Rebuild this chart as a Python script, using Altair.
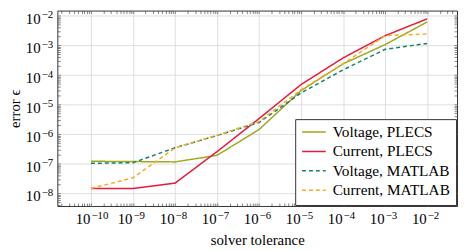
import altair as alt
import pandas as pd

# ---- data ----
tolerance = [1e-10, 1e-9, 1e-8, 1e-7, 1e-6, 1e-5, 1e-4, 1e-3, 1e-2]
voltage_plecs = [1.23e-7, 1.20e-7, 1.17e-7, 1.95e-7, 1.45e-6, 3.0e-5, 2.4e-4, 1.07e-3, 6.2e-3]
current_plecs = [1.48e-8, 1.48e-8, 2.24e-8, 2.6e-7, 3.4e-6, 4.8e-5, 3.8e-4, 2.14e-3, 7.9e-3]
voltage_matlab = [1.05e-7, 1.10e-7, 3.5e-7, 9.1e-7, 2.5e-6, 2.5e-5, 1.5e-4, 7.4e-4, 1.17e-3]
current_matlab = [1.48e-8, 3.4e-8, 3.5e-7, 9.3e-7, 2.7e-6, 3.2e-5, 2.4e-4, 2.14e-3, 2.45e-3]

series_names = ["Voltage, PLECS", "Current, PLECS", "Voltage, MATLAB", "Current, MATLAB"]
series_values = [voltage_plecs, current_plecs, voltage_matlab, current_matlab]
series_colors = ["#a0a81c", "#e8193c", "#16806e", "#f8aa22"]
series_dashes = [[1, 0], [1, 0], [4, 3], [4, 3]]

x_major_exps = list(range(-10, -1))
y_major_exps = list(range(-8, -1))
x_title = "solver tolerance"
y_title = "error ϵ"

x_domain = [10 ** -10.8, 10 ** -1.29]
y_domain = [10 ** -8.42, 10 ** -1.823]


def all_ticks(domain):
    vals = []
    for d in range(-12, 1):
        for m in range(1, 10):
            v = m * 10.0 ** d
            if domain[0] <= v <= domain[1]:
                vals.append(v)
    return vals


rows = []
for name, vals in zip(series_names, series_values):
    for t, v in zip(tolerance, vals):
        rows.append({"tol": t, "err": v, "series": name})
df = pd.DataFrame(rows)

FONT = "Liberation Serif"
BASE_SIZE = 15
EXP_SIZE = 11
major_test = "abs(log(datum.value)/LN10 - round(log(datum.value)/LN10)) < 0.001"
exp_expr = "round(log(datum.value)/LN10)"
base_expr = f"({major_test}) ? '10' : ''"


def exp_label_expr(exps):
    arr = "[" + ",".join("'\u2212" + str(abs(e)) + "'" for e in exps) + "]"
    return f"{arr}[{exp_expr} - ({exps[0]})]"


x_ticks = all_ticks(x_domain)
y_ticks = all_ticks(y_domain)
x_majors = [10.0 ** e for e in x_major_exps]
y_majors = [10.0 ** e for e in y_major_exps]

grid_cond = {"condition": {"test": major_test, "value": "#d6d6d6"}, "value": "transparent"}

x_scale = alt.Scale(type="log", domain=x_domain, nice=False)
y_scale = alt.Scale(type="log", domain=y_domain, nice=False)

tick_common = dict(tickSize=alt.ExprRef("-3"), tickColor="#333", tickWidth=0.6, domain=False)
label_common = dict(labelFont=FONT, labelColor="black", labelOverlap=False,
                    labelFlush=False, labelBaseline="alphabetic")

# mirrored ticks on top and right
mirror = alt.Chart(df).mark_line(opacity=0).encode(
    x=alt.X("tol:Q", scale=x_scale, axis=alt.Axis(
        orient="top", values=x_ticks, labels=False, grid=False, title=None, **tick_common)),
    y=alt.Y("err:Q", scale=y_scale, axis=alt.Axis(
        orient="right", values=y_ticks, labels=False, grid=False, title=None, **tick_common)),
    detail="series:N",
)

lines = alt.Chart(df).mark_line(strokeWidth=1.5).encode(
    x=alt.X("tol:Q", scale=x_scale, axis=alt.Axis(
        orient="bottom", values=x_ticks, labelExpr=base_expr,
        grid=True, gridColor=grid_cond, gridWidth=0.8,
        labelPadding=21, labelFontSize=BASE_SIZE, labelAlign="right", labelOffset=-1,
        title=x_title, titleFont=FONT, titleFontSize=15, titleFontWeight="normal",
        titleColor="black", titleBaseline="alphabetic", titleY=39,
        **label_common, **tick_common)),
    y=alt.Y("err:Q", scale=y_scale, axis=alt.Axis(
        orient="left", values=y_ticks, labelExpr=base_expr,
        grid=True, gridColor=grid_cond, gridWidth=0.8,
        labelPadding=20.5, labelFontSize=BASE_SIZE, labelAlign="right", labelOffset=7.5,
        title=y_title, titleFont=FONT, titleFontSize=15, titleFontWeight="normal",
        titleColor="black", titleAngle=270, titleBaseline="alphabetic",
        titleX=-38, titleY=99,
        **label_common, **tick_common)),
    color=alt.Color("series:N", scale=alt.Scale(domain=series_names, range=series_colors),
                    legend=alt.Legend(title=None)),
    strokeDash=alt.StrokeDash("series:N", scale=alt.Scale(domain=series_names, range=series_dashes),
                              legend=alt.Legend(title=None)),
)

# exponent parts of the tick labels (superscripts)
exponents = alt.Chart(df).mark_line(opacity=0).encode(
    x=alt.X("tol:Q", scale=x_scale, axis=alt.Axis(
        orient="bottom", values=x_majors, labelExpr=exp_label_expr(x_major_exps),
        ticks=False, grid=False, domain=False, title=None,
        labelPadding=13, labelFontSize=EXP_SIZE, labelAlign="left", labelOffset=0,
        **label_common)),
    y=alt.Y("err:Q", scale=y_scale, axis=alt.Axis(
        orient="left", values=y_majors, labelExpr=exp_label_expr(y_major_exps),
        ticks=False, grid=False, domain=False, title=None,
        labelPadding=4.7, labelFontSize=EXP_SIZE, labelAlign="right", labelOffset=2,
        **label_common)),
    detail="series:N",
)

chart = alt.layer(mirror, lines, exponents).properties(
    width=405, height=198,
    autosize=alt.AutoSizeParams(type="none"),
    padding={"left": 50, "top": 1, "right": 2, "bottom": 44},
).configure_view(
    stroke="#333", strokeWidth=1
).configure_legend(
    orient="bottom-right", offset=1, padding=6,
    fillColor="white", strokeColor="#333", strokeWidth=1, cornerRadius=0,
    symbolType="stroke", symbolSize=576, symbolStrokeWidth=1.5,
    clipHeight=14, rowPadding=3.7, labelOffset=6,
    labelFont=FONT, labelFontSize=15.5, labelColor="black",
)

chart.save("out.html", embed_options={"renderer": "svg", "actions": False})
